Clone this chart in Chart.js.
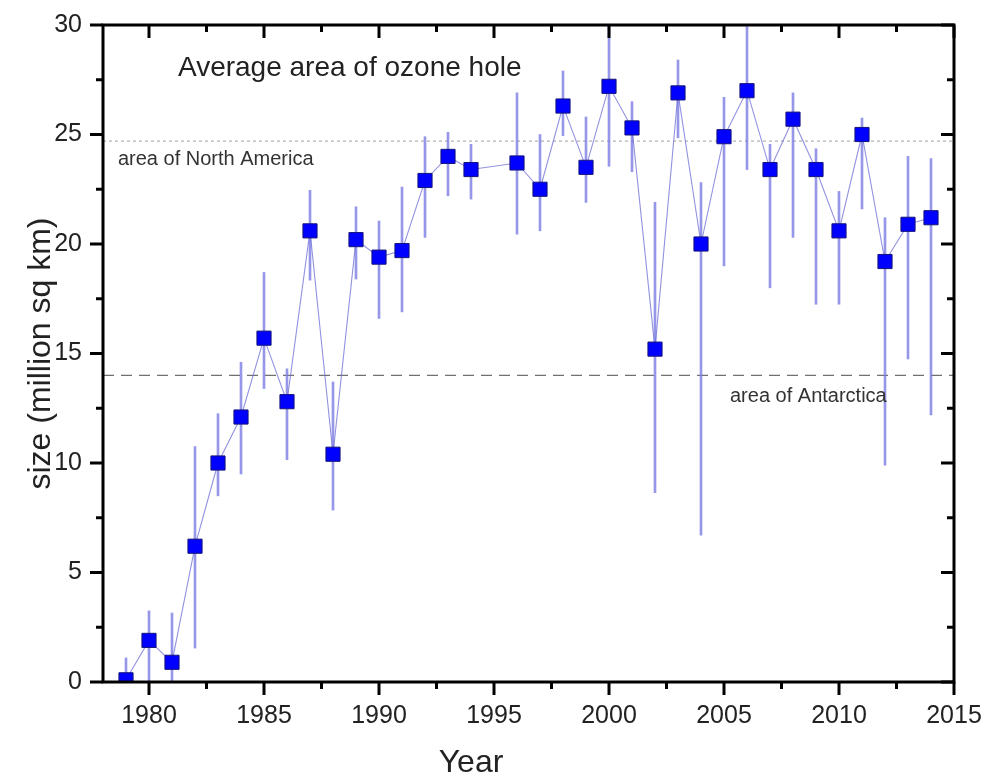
<!DOCTYPE html>
<html>
<head>
<meta charset="utf-8">
<script src="https://cdn.jsdelivr.net/npm/chart.js@4/dist/chart.umd.min.js"></script>
<style>
  html, body { margin: 0; padding: 0; background: #fff; }
  canvas { display: block; }
</style>
</head>
<body>
<canvas id="ozone" width="988" height="776"></canvas>
<script>
// Average ozone hole area per season (million sq km), with the spread shown as a vertical bar.
const years = [1979, 1980, 1981, 1982, 1983, 1984, 1985, 1986, 1987, 1988, 1989, 1990,
               1991, 1992, 1993, 1994, 1996, 1997, 1998, 1999, 2000, 2001, 2002, 2003,
               2004, 2005, 2006, 2007, 2008, 2009, 2010, 2011, 2012, 2013, 2014];
const areaMean = [0.1, 1.9, 0.9, 6.2, 10.0, 12.1, 15.7, 12.8, 20.6, 10.4, 20.2, 19.4,
                  19.7, 22.9, 24.0, 23.4, 23.7, 22.5, 26.3, 23.5, 27.2, 25.3, 15.2, 26.9,
                  20.0, 24.9, 27.0, 23.4, 25.7, 23.4, 20.6, 25.0, 19.2, 20.9, 21.2];
const areaLow  = [-0.5, -0.5, -0.5, 1.55, 8.5, 9.5, 13.4, 10.15, 18.35, 7.85, 18.4, 16.6,
                  16.9, 20.3, 22.2, 22.05, 20.45, 20.6, 24.95, 21.9, 23.55, 23.3, 8.65, 24.85,
                  6.7, 19.0, 23.4, 18.0, 20.3, 17.25, 17.25, 21.6, 9.9, 14.75, 12.2];
const areaHigh = [1.1, 3.25, 3.15, 10.75, 12.25, 14.6, 18.7, 14.3, 22.45, 13.7, 21.7, 21.05,
                  22.6, 24.9, 25.1, 24.55, 26.9, 25.0, 27.9, 25.8, 30.8, 26.5, 21.9, 28.4,
                  22.8, 26.7, 30.5, 24.55, 26.9, 24.35, 22.4, 25.75, 21.2, 24.0, 23.9];

// Reference areas (million sq km)
const northAmericaArea = 24.7;
const antarcticaArea = 14.0;

// Axis ranges and tick steps
const xRange = [1978, 2015];
const yRange = [0, 30];
const majorStep = 5;
const minorStep = 2.5;

const FONT = '"Liberation Sans", Arial, Helvetica, sans-serif';

// Frame, inward/outward tick marks, annotations and the x axis title
const framePlugin = {
  id: 'frameAndNotes',
  afterDatasetsDraw(chart) {
    const { ctx, scales: { x, y } } = chart;
    ctx.save();
    ctx.textAlign = 'left';
    ctx.textBaseline = 'alphabetic';
    ctx.fillStyle = '#222';
    ctx.font = '28px ' + FONT;
    ctx.fillText('Average area of ozone hole', x.getPixelForValue(1981.26), y.getPixelForValue(27.67));
    ctx.fillStyle = '#333';
    ctx.font = '20px ' + FONT;
    ctx.fillText('area of North America', x.getPixelForValue(1978.65), y.getPixelForValue(23.6));
    ctx.fillText('area of Antarctica', x.getPixelForValue(2005.26), y.getPixelForValue(12.79));
    ctx.restore();
  },
  afterDraw(chart) {
    const { ctx, chartArea: a, scales: { x, y } } = chart;
    const major = 13, minor = 7;
    ctx.save();
    ctx.strokeStyle = '#000';
    ctx.lineWidth = 3;
    ctx.strokeRect(a.left, a.top, a.right - a.left, a.bottom - a.top);
    const seg = (x1, y1, x2, y2) => { ctx.beginPath(); ctx.moveTo(x1, y1); ctx.lineTo(x2, y2); ctx.stroke(); };
    for (let v = xRange[0]; v <= xRange[1] + 1e-9; v += 0.5) {
      const isMajor = Math.abs(v / majorStep - Math.round(v / majorStep)) < 1e-9;
      const isMinor = Math.abs(v / minorStep - Math.round(v / minorStep)) < 1e-9;
      if (!isMajor && !isMinor) continue;
      const len = isMajor ? major : minor;
      const px = x.getPixelForValue(v);
      seg(px, a.bottom, px, a.bottom + len);
      seg(px, a.top, px, a.top + len);
    }
    for (let v = yRange[0]; v <= yRange[1] + 1e-9; v += minorStep) {
      const isMajor = Math.abs(v / majorStep - Math.round(v / majorStep)) < 1e-9;
      const len = isMajor ? major : minor;
      const py = y.getPixelForValue(v);
      seg(a.left, py, a.left - len, py);
      seg(a.right, py, a.right - len, py);
    }
    ctx.fillStyle = '#222';
    ctx.font = '32px ' + FONT;
    ctx.textAlign = 'center';
    ctx.textBaseline = 'alphabetic';
    ctx.fillText('Year', x.getPixelForValue(1994), 772);
    ctx.restore();
  }
};

new Chart(document.getElementById('ozone'), {
  type: 'line',
  data: {
    datasets: [
      {
        type: 'bar',
        label: 'spread',
        data: years.map((yr, i) => ({ x: yr, y: [areaLow[i], areaHigh[i]] })),
        backgroundColor: 'rgba(125,125,228,0.8)',
        borderWidth: 0,
        barThickness: 2,
        grouped: false,
        clip: 0,
        order: 3
      },
      {
        label: 'Average area of ozone hole',
        data: years.map((yr, i) => ({ x: yr, y: areaMean[i] })),
        borderColor: 'rgba(110,110,215,0.75)',
        borderWidth: 1.1,
        pointStyle: 'rect',
        pointRadius: 10,
        pointBackgroundColor: '#0000ff',
        pointBorderColor: '#14147a',
        pointBorderWidth: 1,
        tension: 0,
        clip: 0,
        order: 1
      },
      {
        label: 'area of North America',
        data: [{ x: xRange[0], y: northAmericaArea }, { x: xRange[1], y: northAmericaArea }],
        borderColor: '#a0a0a0',
        borderWidth: 1,
        borderDash: [3, 3],
        pointRadius: 0,
        order: 4
      },
      {
        label: 'area of Antarctica',
        data: [{ x: xRange[0], y: antarcticaArea }, { x: xRange[1], y: antarcticaArea }],
        borderColor: '#707070',
        borderWidth: 1.2,
        borderDash: [11, 7],
        pointRadius: 0,
        order: 4
      }
    ]
  },
  options: {
    responsive: false,
    animation: false,
    layout: { padding: { top: 25, right: 34, left: 0, bottom: 0 } },
    plugins: { legend: { display: false }, tooltip: { enabled: false } },
    scales: {
      x: {
        type: 'linear',
        min: xRange[0],
        max: xRange[1],
        offset: false,
        grid: { display: false, drawTicks: false },
        border: { display: false },
        ticks: {
          stepSize: majorStep,
          includeBounds: false,
          autoSkip: false,
          maxRotation: 0,
          padding: 19,
          color: '#222',
          font: { family: FONT, size: 25 },
          callback: v => String(v)
        },
        afterFit: s => { s.height = 94; s.paddingLeft = 0; s.paddingRight = 0; }
      },
      y: {
        min: yRange[0],
        max: yRange[1],
        grid: { display: false, drawTicks: false },
        border: { display: false },
        ticks: {
          stepSize: majorStep,
          padding: 21,
          color: '#222',
          font: { family: FONT, size: 25 }
        },
        title: {
          display: true,
          text: 'size (million sq km)',
          color: '#222',
          font: { family: FONT, size: 32 },
          padding: { top: 22, bottom: 0 }
        },
        afterFit: s => { s.width = 103; s.paddingTop = 0; s.paddingBottom = 0; }
      }
    }
  },
  plugins: [framePlugin]
});
</script>
</body>
</html>
